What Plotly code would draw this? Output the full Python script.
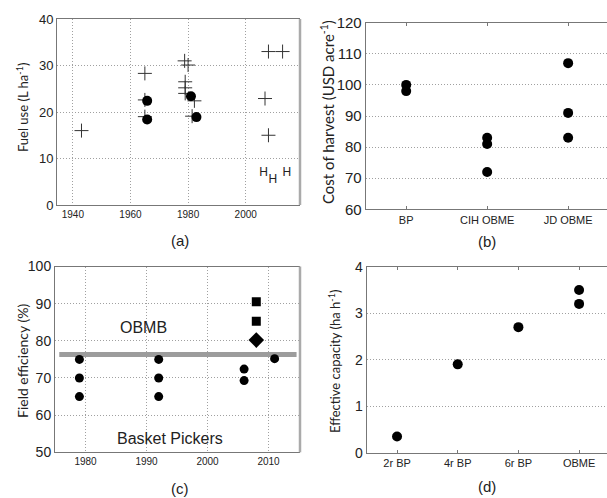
import plotly.graph_objects as go

W, H = 607, 498

# ---------- data ----------
# (a) fuel use
a_cross_year = [1943, 1965, 1965, 1965, 1978.8, 1980, 1979, 1979, 1979, 1982.2, 1981.4, 2007.9, 2012.8, 2006.7, 2007.9]
a_cross_fuel = [16.0, 28.3, 22.6, 19.0, 31.0, 30.1, 26.5, 25.2, 24.0, 22.4, 19.1, 33.0, 33.0, 22.9, 15.0]
a_dot_year = [1965.8, 1965.8, 1981, 1982.9]
a_dot_fuel = [22.4, 18.4, 23.4, 18.9]
a_h_year = [2006.2, 2009.4, 2014.3]
a_h_fuel = [6.8, 5.4, 6.9]
a_xticks = [1940, 1960, 1980, 2000]
a_yticks = [0, 10, 20, 30, 40]

# (b) cost of harvest
b_categories = ["BP", "CIH OBME", "JD OBME"]
b_cat_index = [0, 0, 1, 1, 1, 2, 2, 2]
b_cost = [100, 98, 83, 81, 72, 107, 91, 83]
b_yticks = [60, 70, 80, 90, 100, 110, 120]

# (c) field efficiency
c_dot_year = [1979, 1979, 1979, 1992, 1992, 1992, 2006, 2006, 2011]
c_dot_eff = [75, 70, 65, 75, 70, 65, 72.4, 69.3, 75.2]
c_sq_year = [2008, 2008]
c_sq_eff = [90.5, 85.3]
c_dia_year = [2008]
c_dia_eff = [80.2]
c_band_year = [1975.7, 2014.6]
c_band_eff = [76.3, 76.3]
c_xticks = [1980, 1990, 2000, 2010]
c_yticks = [50, 60, 70, 80, 90, 100]

# (d) effective capacity
d_categories = ["2r BP", "4r BP", "6r BP", "OBME"]
d_cat_index = [0, 1, 2, 3, 3]
d_capacity = [0.35, 1.9, 2.7, 3.5, 3.2]
d_yticks = [0, 1, 2, 3, 4]

# ---------- layout helpers ----------
def px_x(p):
    return p / W

def px_y(p):
    return 1 - p / H

TICKFONT = "Liberation Sans, Arial, sans-serif"
TITLEFONT = "Lato, Open Sans, sans-serif"
GRID = "#a0a0a0"
SPINE = "#777777"
DOTS = "1px,2px"

def xax(domain, rng, tickvals, ticktext=None, grid=True, fsize=10, inside_ticks=False, anchor="y"):
    d = dict(domain=domain, range=rng, tickvals=tickvals, showgrid=grid,
             gridcolor=GRID, griddash=DOTS, gridwidth=1, automargin=False,
             showline=True, linecolor=SPINE, linewidth=1, mirror=True,
             zeroline=False, anchor=anchor,
             tickfont=dict(family=TICKFONT, size=fsize, color="#222"))
    if ticktext is not None:
        d["ticktext"] = ticktext
    if inside_ticks:
        d.update(ticks="inside", ticklen=3, tickcolor=SPINE, mirror="allticks")
    else:
        d.update(ticks="")
    return d

def yax(domain, rng, tickvals, fsize=13, anchor="x"):
    return dict(domain=domain, range=rng, tickvals=tickvals, showgrid=True,
                gridcolor=GRID, griddash=DOTS, gridwidth=1, automargin=False,
                showline=True, linecolor=SPINE, linewidth=1, mirror=True,
                zeroline=False, ticks="", anchor=anchor,
                tickfont=dict(family=TICKFONT, size=fsize, color="#222"))

fig = go.Figure()

# ---- (a) ----
fig.add_trace(go.Scatter(x=a_cross_year, y=a_cross_fuel, mode="markers", xaxis="x", yaxis="y",
                         marker=dict(symbol="cross-thin", size=10, line=dict(width=1, color="#333"))))
fig.add_trace(go.Scatter(x=a_dot_year, y=a_dot_fuel, mode="markers", xaxis="x", yaxis="y",
                         marker=dict(symbol="circle", size=10, color="black")))
fig.add_trace(go.Scatter(x=a_h_year, y=a_h_fuel, mode="text", text=["H"] * len(a_h_year),
                         xaxis="x", yaxis="y", textposition="middle center",
                         textfont=dict(family=TICKFONT, size=12, color="#222")))

# ---- (b) ----
fig.add_trace(go.Scatter(x=b_cat_index, y=b_cost, mode="markers", xaxis="x2", yaxis="y2",
                         marker=dict(symbol="circle", size=10, color="black")))

# ---- (c) ----
fig.add_trace(go.Scatter(x=c_band_year, y=c_band_eff, mode="lines", xaxis="x3", yaxis="y3",
                         line=dict(color="#9c9c9c", width=5)))
fig.add_trace(go.Scatter(x=c_dot_year, y=c_dot_eff, mode="markers", xaxis="x3", yaxis="y3",
                         marker=dict(symbol="circle", size=9, color="black")))
fig.add_trace(go.Scatter(x=c_sq_year, y=c_sq_eff, mode="markers", xaxis="x3", yaxis="y3",
                         marker=dict(symbol="square", size=9, color="black")))
fig.add_trace(go.Scatter(x=c_dia_year, y=c_dia_eff, mode="markers", xaxis="x3", yaxis="y3",
                         marker=dict(symbol="diamond", size=12, color="black")))

# ---- (d) ----
fig.add_trace(go.Scatter(x=d_cat_index, y=d_capacity, mode="markers", xaxis="x4", yaxis="y4",
                         marker=dict(symbol="circle", size=10, color="black")))

sup = "<sup>-1</sup>"
annotations = [
    dict(text="Fuel use (L ha" + sup + ")", x=px_x(22), y=px_y(108), textangle=-90, font=dict(family=TITLEFONT, size=13, color="#222")),
    dict(text="Cost of harvest (USD acre" + sup + ")", x=px_x(327), y=px_y(112), textangle=-90, font=dict(family=TITLEFONT, size=15, color="#222")),
    dict(text="Field efficiency (%)", x=px_x(22), y=px_y(361), textangle=-90, font=dict(family=TITLEFONT, size=14, color="#222")),
    dict(text="Effective capacity (ha h" + sup + ")", x=px_x(334), y=px_y(361), textangle=-90, font=dict(family=TITLEFONT, size=13, color="#222")),
    dict(text="(a)", x=px_x(180), y=px_y(240), font=dict(family=TICKFONT, size=15, color="#222")),
    dict(text="(b)", x=px_x(487), y=px_y(241), font=dict(family=TICKFONT, size=15, color="#222")),
    dict(text="(c)", x=px_x(180), y=px_y(488), font=dict(family=TICKFONT, size=15, color="#222")),
    dict(text="(d)", x=px_x(487), y=px_y(486), font=dict(family=TICKFONT, size=15, color="#222")),
]
for a in annotations:
    a.update(xref="paper", yref="paper", showarrow=False, xanchor="center", yanchor="middle")

annotations += [
    dict(text="OBMB", x=1989.5, y=83.7, xref="x3", yref="y3", showarrow=False,
         font=dict(family=TICKFONT, size=16, color="#222")),
    dict(text="Basket Pickers", x=1993.8, y=53.8, xref="x3", yref="y3", showarrow=False,
         font=dict(family=TICKFONT, size=16, color="#222")),
]

shapes = [
    dict(type="line", xref="paper", yref="paper", x0=px_x(300), x1=px_x(300), y0=px_y(19), y1=px_y(205),
         line=dict(color="#aaaaaa", width=2.5)),
    dict(type="line", xref="paper", yref="paper", x0=px_x(300), x1=px_x(300), y0=px_y(266.5), y1=px_y(452.3),
         line=dict(color="#aaaaaa", width=2.5)),
]

fig.update_layout(
    width=W, height=H,
    margin=dict(l=0, r=0, t=0, b=0, autoexpand=False),
    paper_bgcolor="white", plot_bgcolor="white",
    showlegend=False,
    xaxis=xax([px_x(57), px_x(299)], [1934.5, 2018.5], a_xticks, fsize=10, anchor="y"),
    yaxis=yax([px_y(205), px_y(19)], [0, 40], a_yticks, fsize=13, anchor="x"),
    xaxis2=xax([px_x(365.7), 1.0], [-0.5, 2.48], [0, 1, 2], b_categories, grid=False, fsize=11, inside_ticks=True, anchor="y2"),
    yaxis2=yax([px_y(209.3), px_y(22.7)], [60, 120], b_yticks, fsize=15, anchor="x2"),
    xaxis3=xax([px_x(55), px_x(299)], [1975, 2015], c_xticks, fsize=10, anchor="y3"),
    yaxis3=yax([px_y(452.3), px_y(266.5)], [50, 100], c_yticks, fsize=14, anchor="x3"),
    xaxis4=xax([px_x(366.7), 1.0], [-0.5, 3.46], [0, 1, 2, 3], d_categories, grid=False, fsize=11, inside_ticks=True, anchor="y4"),
    yaxis4=yax([px_y(452.7), px_y(266.7)], [0, 4], d_yticks, fsize=14, anchor="x4"),
    annotations=annotations,
    shapes=shapes,
)

fig.write_html("out.html", config={"displayModeBar": False},
               post_script="document.body.style.margin='0';document.body.style.overflow='hidden';")
